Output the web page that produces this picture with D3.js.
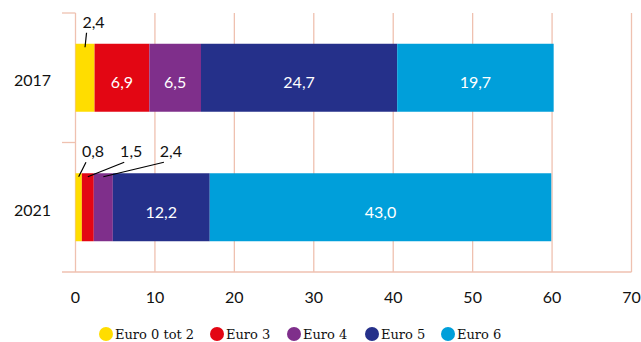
<!DOCTYPE html>
<html>
<head>
<meta charset="utf-8">
<script src="https://cdn.jsdelivr.net/npm/d3@7"></script>
<style>
  html, body { margin: 0; padding: 0; background: #fff; }
  svg { display: block; }
</style>
</head>
<body>
<svg id="chart" width="641" height="342"></svg>
<script>
// Vehicle share by emission class (percent), per year
const years = ["2017", "2021"];
const seriesNames = ["Euro 0 tot 2", "Euro 3", "Euro 4", "Euro 5", "Euro 6"];
const euro02 = [2.4, 0.8];
const euro3  = [6.9, 1.5];
const euro4  = [6.5, 2.4];
const euro5  = [24.7, 12.2];
const euro6  = [19.7, 43.0];
const xTicks = [0, 10, 20, 30, 40, 50, 60, 70];

const colors = ["#ffdd00", "#e30613", "#7f2f8b", "#25308a", "#009fda"];
const gridColor = "#efc1b0";
const bodyFont = "Lato, 'Open Sans', sans-serif";
const legendFont = "'DejaVu Serif', serif";

const seriesValues = [euro02, euro3, euro4, euro5, euro6];
const rows = years.map((y, i) => {
  const r = { year: y };
  seriesNames.forEach((s, k) => { r[s] = seriesValues[k][i]; });
  return r;
});

const svg = d3.select("#chart");
const margin = { top: 13, left: 75.5, right: 9.5, bottom: 70 };
const width = 641, height = 342;

const x = d3.scaleLinear().domain([0, 70]).range([margin.left, width - margin.right]);
const y = d3.scaleBand().domain(years).range([margin.top, height - margin.bottom])
  .paddingInner(0.475).paddingOuter(0.2375);

const stacked = d3.stack().keys(seriesNames)(rows);

// vertical gridlines
svg.append("g").selectAll("line").data(xTicks).join("line")
  .attr("x1", d => x(d)).attr("x2", d => x(d))
  .attr("y1", margin.top).attr("y2", height - margin.bottom)
  .attr("stroke", gridColor).attr("stroke-width", 1.3);

// category boundary ticks on the left + baseline
const bounds = [margin.top, ...years.slice(1).map(d => y(d) - y.step() * y.paddingInner() / 2), height - margin.bottom];
svg.append("g").selectAll("line").data(bounds).join("line")
  .attr("x1", 62).attr("x2", d => d === height - margin.bottom ? x(70) : x(0))
  .attr("y1", d => d).attr("y2", d => d)
  .attr("stroke", gridColor).attr("stroke-width", 1.3);

// bars
const layer = svg.append("g").selectAll("g").data(stacked).join("g")
  .attr("fill", (d, i) => colors[i]);
layer.selectAll("rect").data(d => d).join("rect")
  .attr("x", d => x(d[0]))
  .attr("width", d => x(d[1]) - x(d[0]))
  .attr("y", d => y(d.data.year))
  .attr("height", y.bandwidth());

// labels inside wide segments
const fmt = v => d3.format(".1f")(v).replace(".", ",");
stacked.forEach((s, k) => {
  s.forEach(d => {
    const v = d[1] - d[0];
    if (x(d[1]) - x(d[0]) < 40) return;
    svg.append("text")
      .attr("x", (x(d[0]) + x(d[1])) / 2)
      .attr("y", y(d.data.year) + y.bandwidth() / 2 + 10.5)
      .attr("text-anchor", "middle")
      .attr("fill", "#fff")
      .attr("font-family", bodyFont)
      .attr("font-size", 16)
      .text(fmt(v));
  });
});

// callout labels for narrow segments: horizontal text offset from segment centre
const callouts = [
  { year: "2017", series: 0, dx: 8.5 },
  { year: "2021", series: 0, dx: 14.3 },
  { year: "2021", series: 1, dx: 43.4 },
  { year: "2021", series: 2, dx: 67.6 }
];
callouts.forEach(c => {
  const d = stacked[c.series].find(e => e.data.year === c.year);
  const cx = (x(d[0]) + x(d[1])) / 2;
  const top = y(c.year);
  const tx = cx + c.dx;
  const base = top - 16;
  svg.append("line")
    .attr("x1", cx).attr("y1", top + 3.5)
    .attr("x2", tx - 7).attr("y2", base + 5)
    .attr("stroke", "#000").attr("stroke-width", 1.2);
  svg.append("text")
    .attr("x", tx).attr("y", base)
    .attr("text-anchor", "middle")
    .attr("fill", "#111")
    .attr("font-family", bodyFont)
    .attr("font-size", 16)
    .text(fmt(d[1] - d[0]));
});

// year labels
svg.append("g").selectAll("text").data(years).join("text")
  .attr("x", 51).attr("y", d => y(d) + y.bandwidth() / 2 + 8.5)
  .attr("text-anchor", "end")
  .attr("fill", "#111")
  .attr("font-family", bodyFont)
  .attr("font-size", 16)
  .text(d => d);

// x tick labels
svg.append("g").selectAll("text").data(xTicks).join("text")
  .attr("x", d => x(d)).attr("y", 303)
  .attr("text-anchor", "middle")
  .attr("fill", "#111")
  .attr("font-family", bodyFont)
  .attr("font-size", 16)
  .text(d => d);

// legend
const legendX = [106, 217, 294, 372, 448];
const leg = svg.append("g").selectAll("g").data(seriesNames).join("g")
  .attr("transform", (d, i) => `translate(${legendX[i]},334)`);
leg.append("circle").attr("r", 7).attr("fill", (d, i) => colors[i]);
leg.append("text")
  .attr("x", 9).attr("y", 4.5)
  .attr("fill", "#111")
  .attr("font-family", legendFont)
  .attr("font-size", 13)
  .text(d => d);
</script>
</body>
</html>
